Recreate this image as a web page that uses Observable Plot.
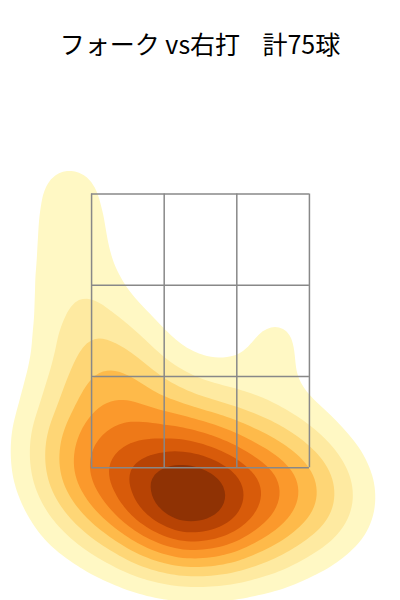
<!DOCTYPE html>
<html><head><meta charset="utf-8">
<script src="https://cdn.jsdelivr.net/npm/d3@7"></script>
<script src="https://cdn.jsdelivr.net/npm/@observablehq/plot@0.6"></script>
<style>
body{margin:0;background:#fff;width:400px;}
#title{height:80px;box-sizing:border-box;padding-top:31px;line-height:25px;font-size:25px;font-family:"Noto Sans CJK JP";text-align:center;white-space:pre;color:#000}
</style></head><body>
<div id="title"></div>
<div id="chart"></div>
<script>
const title = "フォーク vs右打    計75球";
const plateX = [-0.32,-0.23,-0.03,-0.49,-0.32,-0.16,0.00,0.16,-0.42,-0.26,-0.10,0.03,0.19,0.32,-0.32,-0.18,-0.03,0.12,0.26,-0.23,-0.08,0.06,0.91,-0.10,0.06,-0.97,
 -0.68,-0.55,-0.39,-0.23,-0.06,0.10,0.26,0.42,-0.58,-0.49,-0.13,-0.75,
 -0.55,-0.65,-0.47,-0.57,-0.36,-0.70,-0.26,
 0.00,0.23,0.45,0.58,
 0.47,0.53,
 -0.88,-0.91,-0.84,-0.81,-0.84,
 -0.87,-0.83,-0.83,-0.84,-0.79,-0.71,
 0.52,0.68,0.78,0.62,0.42,0.84,
 -0.62,-0.52,
 -0.71,0.39,0.36,0.03,0.65];
const plateZ = [0.97,1.49,1.48,1.35,1.39,1.37,1.38,1.33,1.26,1.27,1.26,1.27,1.22,1.22,1.15,1.16,1.15,1.13,1.11,1.04,1.03,1.04,1.22,0.93,0.91,1.59,
 1.62,1.70,1.64,1.70,1.62,1.66,1.57,1.48,1.51,1.70,1.66,1.48,
 2.37,2.19,2.22,2.03,2.10,1.88,1.95,
 1.99,1.84,1.70,1.55,
 2.49,2.38,
 1.95,1.70,1.41,1.15,2.28,
 3.67,3.45,3.12,2.90,2.68,2.50,
 1.26,1.33,1.15,1.04,0.93,1.41,
 1.15,1.00,
 1.33,1.37,0.97,1.62,1.66];
const zoneX = [-0.708,-0.236,0.236,0.708];
const zoneZ = [1.5,2.1667,2.8333,3.5];

document.getElementById("title").textContent = title;
const pitches = plateX.map((x,i)=>({x, z: plateZ[i]}));
const chart = Plot.plot({
  width:400, height:520, margin:0,
  x:{domain:[-1.3,1.3], axis:null},
  y:{domain:[0.53,4.33], axis:null},
  color:{type:"linear", interpolate: t => d3.interpolateYlOrBr(0.9*t)},
  marks:[
    Plot.density(pitches, {x:"x", y:"z", fill:"density", thresholds:10, bandwidth:35, stroke:"none"}),
    Plot.ruleX(zoneX, {y1:zoneZ[0], y2:zoneZ[3], stroke:"#888", strokeWidth:1.5}),
    Plot.ruleY(zoneZ, {x1:zoneX[0], x2:zoneX[3], stroke:"#888", strokeWidth:1.5})
  ]
});
document.getElementById("chart").appendChild(chart);
</script>
</body></html>
